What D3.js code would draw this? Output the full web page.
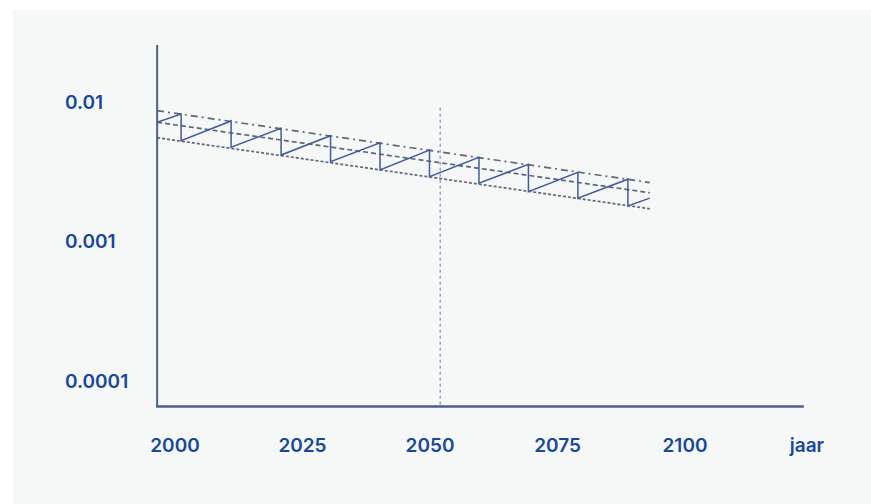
<!DOCTYPE html>
<html>
<head>
<meta charset="utf-8">
<script src="https://cdn.jsdelivr.net/npm/d3@7"></script>
<style>
  html, body { margin: 0; padding: 0; background: #ffffff; }
  svg { display: block; }
  text { font-family: Inter, "Noto Sans", sans-serif; font-weight: 600; fill: #17479e; }
</style>
</head>
<body>
<svg id="chart" width="871" height="504"></svg>
<script>
// ---- data ----
const xTicks = [2000, 2025, 2050, 2075, 2100];
const xAxisTitle = "jaar";
const yTicks = [0.01, 0.001, 0.0001];
const yTickLabels = ["0.01", "0.001", "0.0001"];

// sawtooth (actual probability, solid)
const sawYears  = [1996.5, 2001.2, 2001.2, 2011.0, 2011.0, 2020.8, 2020.8, 2030.5, 2030.5, 2040.2, 2040.2,
                   2049.9, 2049.9, 2059.6, 2059.6, 2069.3, 2069.3, 2079.0, 2079.0, 2088.8, 2088.8, 2093.1];
const sawValues = [0.00715, 0.00820, 0.00527, 0.00731, 0.00473, 0.00648, 0.00416, 0.00573, 0.00373, 0.00510, 0.00325,
                   0.00452, 0.00291, 0.00401, 0.00261, 0.00357, 0.00227, 0.00313, 0.00204, 0.00279, 0.00179, 0.00204];

// straight reference lines (start year / end year)
const refYears   = [1996.5, 2093.1];
const upperLine  = [0.00866, 0.00264];
const middleLine = [0.00715, 0.00223];
const lowerLine  = [0.00554, 0.00171];

const markerYear = 2052;
const xDomainExtent = [1996.5, 2123.3];
const yDomainExtent = [0.000065, 0.0257];

// ---- drawing ----
const svg = d3.select("#chart");
const x = d3.scaleLinear().domain([2000, 2100]).range([175, 685]);
const y = d3.scaleLog().domain([0.0001, 0.01]).range([380.5, 102]);

// background panel
svg.append("rect").attr("x", 13).attr("y", 10).attr("width", 858).attr("height", 494).attr("fill", "#f6f7f7");

const lineColor = "#5f6778";
const line = d3.line().x(d => x(d[0])).y(d => y(d[1]));

// marker vertical dashed line
svg.append("line")
  .attr("x1", x(markerYear)).attr("x2", x(markerYear))
  .attr("y1", y(0.0091)).attr("y2", y(yDomainExtent[0]))
  .attr("stroke", "#7f8fbf").attr("stroke-width", 1.2).attr("stroke-dasharray", "3,3");

// reference lines
const refs = [
  {vals: upperLine,  dash: "7,4,2,4"},
  {vals: middleLine, dash: "5,3"},
  {vals: lowerLine,  dash: "3,2"}
];
refs.forEach(r => {
  svg.append("path")
    .datum(refYears.map((yr, i) => [yr, r.vals[i]]))
    .attr("d", line)
    .attr("fill", "none")
    .attr("stroke", lineColor)
    .attr("stroke-width", 1.7)
    .attr("stroke-dasharray", r.dash);
});

// sawtooth
svg.append("path")
  .datum(sawYears.map((yr, i) => [yr, sawValues[i]]))
  .attr("d", line)
  .attr("fill", "none")
  .attr("stroke", "#3f5c9c")
  .attr("stroke-width", 1.5)
  .attr("stroke-linejoin", "miter");

// axes lines
svg.append("line")
  .attr("x1", x(xDomainExtent[0])).attr("x2", x(xDomainExtent[0]))
  .attr("y1", y(yDomainExtent[1])).attr("y2", y(yDomainExtent[0]))
  .attr("stroke", "#4b5f8f").attr("stroke-width", 2);
svg.append("line")
  .attr("x1", x(xDomainExtent[0]) - 1).attr("x2", x(xDomainExtent[1]))
  .attr("y1", y(yDomainExtent[0])).attr("y2", y(yDomainExtent[0]))
  .attr("stroke", "#4b5f8f").attr("stroke-width", 2.5);

// x tick labels
svg.selectAll(".xt").data(xTicks).enter().append("text")
  .attr("class", "xt")
  .attr("x", d => x(d)).attr("y", 452)
  .attr("text-anchor", "middle")
  .attr("font-size", 19)
  .text(d => d);
svg.append("text")
  .attr("x", 807).attr("y", 452)
  .attr("text-anchor", "middle")
  .attr("font-size", 19)
  .text(xAxisTitle);

// y tick labels
svg.selectAll(".yt").data(yTicks).enter().append("text")
  .attr("class", "yt")
  .attr("x", 65).attr("y", d => y(d) + 7)
  .attr("text-anchor", "start")
  .attr("font-size", 19)
  .text((d, i) => yTickLabels[i]);
</script>
</body>
</html>
